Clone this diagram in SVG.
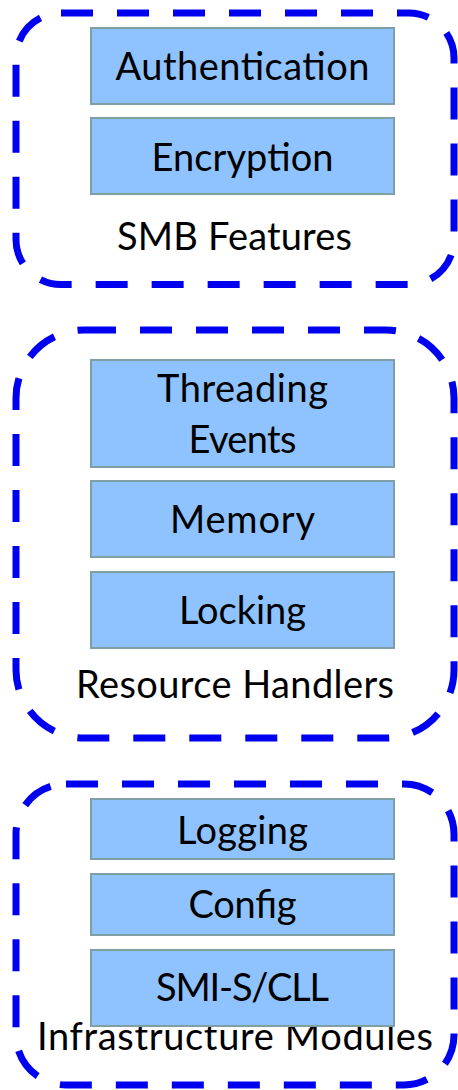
<svg xmlns="http://www.w3.org/2000/svg" width="458" height="1090" viewBox="0 0 458 1090">
<style>
.grp{fill:none;stroke:#0000F0;stroke-width:7;stroke-dasharray:32 24}
.box{fill:#8FC3FF;stroke:#7F9FA6;stroke-width:2}
.t{font-family:Lato,"Open Sans",sans-serif;font-size:38px;fill:#000;text-anchor:middle}
</style>
<rect width="458" height="1090" fill="#fff"/>
<g id="smb-features">
<rect class="grp" x="16" y="13" width="438" height="271.5" rx="45"/>
<text class="t" x="234.5" y="250" textLength="235">SMB Features</text>
<g id="authentication"><rect class="box" x="91" y="28" width="303" height="76"/><text class="t" x="242.5" y="80" textLength="254">Authentication</text></g>
<g id="encryption"><rect class="box" x="91" y="118" width="303" height="76"/><text class="t" x="242.5" y="171" textLength="182">Encryption</text></g>
</g>
<g id="resource-handlers">
<rect class="grp" x="16" y="330" width="438" height="408" rx="68"/>
<text class="t" x="235" y="698" textLength="318">Resource Handlers</text>
<g id="threading-events"><rect class="box" x="91" y="360" width="303" height="107"/><text class="t" x="242.5" y="402" textLength="171">Threading</text><text class="t" x="242.5" y="453" textLength="108">Events</text></g>
<g id="memory"><rect class="box" x="91" y="481" width="303" height="76"/><text class="t" x="242.5" y="533" textLength="145">Memory</text></g>
<g id="locking"><rect class="box" x="91" y="572" width="303" height="76"/><text class="t" x="242.5" y="624" textLength="127">Locking</text></g>
</g>
<g id="infrastructure-modules">
<rect class="grp" x="16" y="784" width="438" height="301" rx="50"/>
<text class="t" x="235" y="1050" textLength="396">Infrastructure Modules</text>
<g id="logging"><rect class="box" x="91" y="799" width="303" height="60"/><text class="t" x="242.5" y="844" textLength="131">Logging</text></g>
<g id="config"><rect class="box" x="91" y="874" width="303" height="61"/><text class="t" x="242.5" y="918" textLength="108">Config</text></g>
<g id="smi-s-cll"><rect class="box" x="91" y="950" width="303" height="76"/><text class="t" x="242.5" y="1001" textLength="173">SMI-S/CLL</text></g>
</g>
<g id="connectors"/>
</svg>
